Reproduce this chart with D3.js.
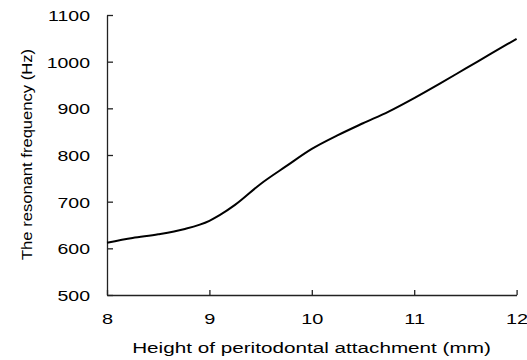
<!DOCTYPE html>
<html>
<head>
<meta charset="utf-8">
<script src="https://cdn.jsdelivr.net/npm/d3@7"></script>
<style>
  body { margin: 0; background: #fff; }
  svg text { font-family: "Liberation Sans", Arial, sans-serif; fill: #000; }
</style>
</head>
<body>
<div id="chart"></div>
<script>
// height of attachment (mm) vs resonant frequency (Hz)
var heights = [8.0, 8.25, 8.5, 8.75, 9.0, 9.1, 9.25, 9.5, 9.75, 10.0, 10.25, 10.5, 10.75, 11.0, 11.25, 11.5, 11.75, 12.0];
var freqs = [612, 622, 630, 641, 659, 671, 693, 738, 776, 813, 842, 868, 893, 922, 953, 985, 1017, 1049];
var xTicks = [8, 9, 10, 11, 12];
var yTicks = [500, 600, 700, 800, 900, 1000, 1100];

var margin = {top: 15, right: 10, bottom: 65, left: 107},
    width = 527 - margin.left - margin.right,
    height = 360 - margin.top - margin.bottom;

var svg = d3.select("#chart").append("svg")
    .attr("width", 527)
    .attr("height", 360);

var g = svg.append("g")
    .attr("transform", "translate(" + margin.left + "," + margin.top + ")");

var x = d3.scaleLinear().domain([8, 12]).range([0, 409.6]);
var y = d3.scaleLinear().domain([500, 1100]).range([height, 0]);

// axes: ticks point inward
var xAxis = g.append("g")
    .attr("transform", "translate(0," + height + ")")
    .call(d3.axisBottom(x).tickValues(xTicks).tickFormat(d3.format("d")).tickSizeInner(-5).tickSizeOuter(0));
var yAxis = g.append("g")
    .call(d3.axisLeft(y).tickValues(yTicks).tickFormat(d3.format("d")).tickSizeInner(-6).tickSizeOuter(0));

[xAxis, yAxis].forEach(function(a) {
    a.select(".domain").attr("stroke", "#222").attr("stroke-width", 1.3);
    a.selectAll(".tick line").attr("stroke", "#222").attr("stroke-width", 1.3);
    a.selectAll(".tick text")
        .style("font-size", "15px")
        .attr("fill", "#000")
        .attr("x", 0)
        .attr("y", 0);
});
// text in the original is drawn a bit wide
xAxis.selectAll(".tick text")
    .attr("dy", null)
    .attr("transform", "translate(0,29) scale(1.33,1)");
yAxis.selectAll(".tick text")
    .attr("dy", "0.36em")
    .attr("transform", "translate(-17,0) scale(1.3,1)");

var line = d3.line()
    .x(function(d, i) { return x(heights[i]); })
    .y(function(d) { return y(d); })
    .curve(d3.curveMonotoneX);

g.append("path")
    .datum(freqs)
    .attr("fill", "none")
    .attr("stroke", "#000")
    .attr("stroke-width", 2)
    .attr("d", line);

svg.append("text")
    .attr("transform", "translate(311.5,353) scale(1.38,1)")
    .attr("text-anchor", "middle")
    .style("font-size", "15px")
    .text("Height of peritodontal attachment (mm)");

svg.append("text")
    .attr("transform", "translate(31.5,154.5) rotate(-90) scale(1.07,1)")
    .attr("text-anchor", "middle")
    .style("font-size", "15.5px")
    .text("The resonant frequency (Hz)");
</script>
</body>
</html>
